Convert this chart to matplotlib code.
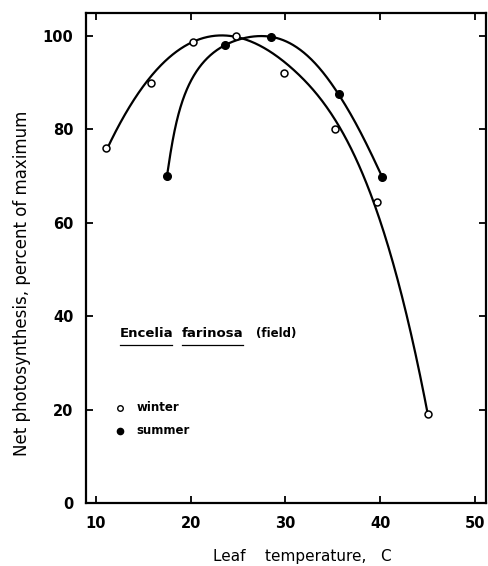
import numpy as np
import matplotlib.pyplot as plt
import matplotlib as mpl

mpl.rcParams.update({'font.size': 10, 'font.family': 'DejaVu Sans'})

# leaf temperature (C) and net photosynthesis (% of maximum)
winter_t = [11.1, 15.8, 20.2, 24.8, 29.8, 35.2, 39.6, 45.0]
winter_p = [76.0, 90.0, 98.6, 100.0, 92.0, 80.0, 64.5, 19.0]
summer_t = [17.5, 23.6, 28.5, 35.6, 40.2]
summer_p = [70.0, 98.0, 99.8, 87.5, 69.8]

xticks = [10, 20, 30, 40, 50]
yticks = [0, 20, 40, 60, 80, 100]

def regression_spline(t, p, knots, tt, w=None):
	"""Weighted least squares cubic with truncated power terms at the knots."""
	t = np.asarray(t, float)
	w = np.ones(len(t)) if w is None else np.asarray(w, float)
	def basis(x):
		cols = [x**k for k in range(4)] + [np.clip(x - k, 0, None)**3 for k in knots]
		return np.column_stack(cols)
	coef = np.linalg.lstsq(basis(t)*w[:, None], np.asarray(p, float)*w, rcond=None)[0]
	return basis(tt) @ coef

def natural_spline(s, v, ss):
	n = len(s)
	h = np.diff(s)
	A = np.zeros((n, n)); b = np.zeros(n)
	A[0, 0] = A[-1, -1] = 1.0
	for i in range(1, n-1):
		A[i, i-1] = h[i-1]
		A[i, i] = 2*(h[i-1] + h[i])
		A[i, i+1] = h[i]
		b[i] = 6*((v[i+1]-v[i])/h[i] - (v[i]-v[i-1])/h[i-1])
	M = np.linalg.solve(A, b)
	i = np.clip(np.searchsorted(s, ss) - 1, 0, n-2)
	hi = h[i]; a = s[i+1] - ss; c = ss - s[i]
	return (M[i]*a**3 + M[i+1]*c**3)/(6*hi) + (v[i]/hi - M[i]*hi/6)*a + (v[i+1]/hi - M[i+1]*hi/6)*c

def parametric_spline(t, p, xs=2.03):
	t = np.asarray(t, float); p = np.asarray(p, float)
	d = np.hypot(np.diff(t)*xs, np.diff(p))
	s = np.concatenate([[0], np.cumsum(d)])
	ss = np.linspace(0, s[-1], 500)
	return natural_spline(s, t, ss), natural_spline(s, p, ss)

fig = plt.figure(figsize=(4.88, 5.66), dpi=100)
ax = fig.add_axes([0.176, 0.111, 0.82, 0.866])

tw = np.linspace(min(winter_t), max(winter_t), 500)
wts = [1, 1, 1, 3, 0.4, 1, 1, 2]
ax.plot(tw, regression_spline(winter_t, winter_p, [31.0], tw, wts), 'k', lw=1.6, zorder=2)
sx, sy = parametric_spline(summer_t, summer_p)
ax.plot(sx, sy, 'k', lw=1.6, zorder=2)

ax.plot(winter_t, winter_p, 'o', ms=5, mfc='white', mec='k', mew=1.1, zorder=3)
ax.plot(summer_t, summer_p, 'o', ms=5.5, mfc='k', mec='k', zorder=3)

ax.set_xlim(8.95, 51.15)
ax.set_ylim(0, 104.9)
ax.set_xticks(xticks)
ax.set_yticks(yticks)
ax.tick_params(direction='in', length=5, width=1.3, top=True, right=True,
	labelsize=10.5, pad=9)
for s in ax.spines.values():
	s.set_linewidth(1.6)
for lab in ax.get_xticklabels() + ax.get_yticklabels():
	lab.set_fontweight('bold')

fig.text(22/488., 1-283/566., 'Net photosynthesis, percent of maximum', fontsize=12,
	rotation=90, ha='center', va='center')
fig.text(302/488., 1-556/566., 'Leaf    temperature,   C', fontsize=11,
	ha='center', va='center')

# species label with underlined names
ax.text(12.55, 36.4, 'Encelia', fontsize=9.5, fontweight='bold', va='center')
ax.text(19.1, 36.4, 'farinosa', fontsize=9.5, fontweight='bold', va='center')
ax.text(26.9, 36.4, '(field)', fontsize=8.5, fontweight='bold', va='center')
ax.plot([12.55, 18.0], [33.9, 33.9], 'k', lw=0.9)
ax.plot([19.1, 25.5], [33.9, 33.9], 'k', lw=0.9)

# legend
ax.plot([12.53], [20.4], 'o', ms=4, mfc='white', mec='k', mew=1.0)
ax.plot([12.53], [15.45], 'o', ms=4.5, mfc='k', mec='k')
ax.text(14.3, 20.4, 'winter', fontsize=8.5, fontweight='bold', va='center')
ax.text(14.3, 15.45, 'summer', fontsize=8.5, fontweight='bold', va='center')

plt.savefig('out.png', dpi=100)
plt.close()
